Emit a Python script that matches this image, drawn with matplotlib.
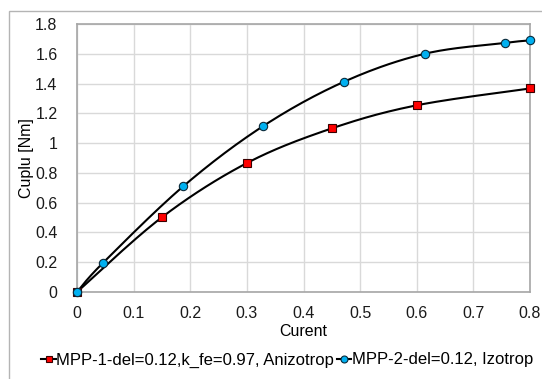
import numpy as np
import matplotlib
matplotlib.use("Agg")
import matplotlib.pyplot as plt
from matplotlib.patches import Rectangle

plt.rcParams['font.family'] = ['Liberation Sans', 'DejaVu Sans']

# data
x_aniz = [0.0, 0.15, 0.30, 0.45, 0.60, 0.80]
y_aniz = [0.0, 0.502, 0.866, 1.099, 1.254, 1.367]
x_izo = [0.0, 0.046, 0.188, 0.329, 0.472, 0.614, 0.756, 0.80]
y_izo = [0.0, 0.196, 0.711, 1.115, 1.413, 1.600, 1.673, 1.690]
label_aniz = "MPP-1-del=0.12,k_fe=0.97, Anizotrop"
label_izo = "MPP-2-del=0.12, Izotrop"
x_ticks = [0, 0.1, 0.2, 0.3, 0.4, 0.5, 0.6, 0.7, 0.8]
y_ticks = [0, 0.2, 0.4, 0.6, 0.8, 1, 1.2, 1.4, 1.6, 1.8]


def SmoothCurve(xs, ys, n=30):
    # catmull-rom like the excel "smoothed line"
    p = np.column_stack([xs, ys]).astype(float)
    p = np.vstack([p[0], p, p[-1]])
    out = []
    for i in range(1, len(p) - 2):
        p0, p1, p2, p3 = p[i - 1], p[i], p[i + 1], p[i + 2]
        t = np.linspace(0, 1, n)[:, None]
        seg = 0.5 * ((2 * p1) + (-p0 + p2) * t
                     + (2 * p0 - 5 * p1 + 4 * p2 - p3) * t ** 2
                     + (-p0 + 3 * p1 - 3 * p2 + p3) * t ** 3)
        out.append(seg)
    out = np.vstack(out)
    return out[:, 0], out[:, 1]


def main():
    fig = plt.figure(figsize=(5.42, 3.79), dpi=100)
    ax = fig.add_axes([77 / 542, 1 - 292 / 379, 453 / 542, 268 / 379])

    # outer chart border
    fig.patches.append(Rectangle((9 / 542, -0.05), 1.2, 1 - 10.5 / 379 + 0.05,
                                 transform=fig.transFigure, fill=False,
                                 edgecolor="#b4b4b4", linewidth=1.0))

    sx, sy = SmoothCurve(x_aniz, y_aniz)
    ax.plot(sx, sy, color="black", linewidth=1.5, zorder=3)
    ax.plot(x_aniz, y_aniz, linestyle="none", marker="s", markersize=6.3,
            markerfacecolor="#ff0000", markeredgecolor="#3a0000",
            markeredgewidth=0.8, zorder=4, clip_on=False)

    sx, sy = SmoothCurve(x_izo, y_izo)
    ax.plot(sx, sy, color="black", linewidth=1.5, zorder=3)
    ax.plot(x_izo, y_izo, linestyle="none", marker="o", markersize=6,
            markerfacecolor="#00b0f0", markeredgecolor="#0a2a3a",
            markeredgewidth=0.8, zorder=4, clip_on=False)

    ax.set_xlim(0, 0.8)
    ax.set_ylim(0, 1.8)
    ax.set_xticks(x_ticks)
    ax.set_yticks(y_ticks)
    ax.set_xticklabels(["%g" % v for v in x_ticks])
    ax.set_yticklabels(["%g" % v for v in y_ticks])
    ax.tick_params(length=0, labelsize=11.5, labelcolor="#1a1a1a")
    ax.tick_params(axis="x", pad=10)
    ax.tick_params(axis="y", pad=14)
    ax.grid(color="#d9d9d9", linewidth=1.0)
    ax.set_axisbelow(True)
    for s in ax.spines.values():
        s.set_color("#a6a6a6")
        s.set_linewidth(1.2)

    ax.set_xlabel("Curent", fontsize=11.5)
    ax.set_ylabel("Cuplu [Nm]", fontsize=11.5)
    ax.xaxis.set_label_coords(0.5, -0.118)
    ax.yaxis.set_label_coords(-0.096, 0.5)

    h1, = ax.plot([], [], color="black", linewidth=1.5, marker="s", markersize=5,
                  markerfacecolor="#ff0000", markeredgecolor="#3a0000", markeredgewidth=0.8)
    h2, = ax.plot([], [], color="black", linewidth=1.5, marker="o", markersize=5,
                  markerfacecolor="#00b0f0", markeredgecolor="#0a2a3a", markeredgewidth=0.8)
    fig.legend([h1, h2], [label_aniz, label_izo], loc="center", ncol=2,
               bbox_to_anchor=(0.530, 1 - 360 / 379), frameon=False,
               fontsize=12, handlelength=0.85, handletextpad=0.05,
               columnspacing=0.15, borderaxespad=0, borderpad=0)

    fig.savefig("out.png", dpi=100)


if __name__ == '__main__':
    main()
